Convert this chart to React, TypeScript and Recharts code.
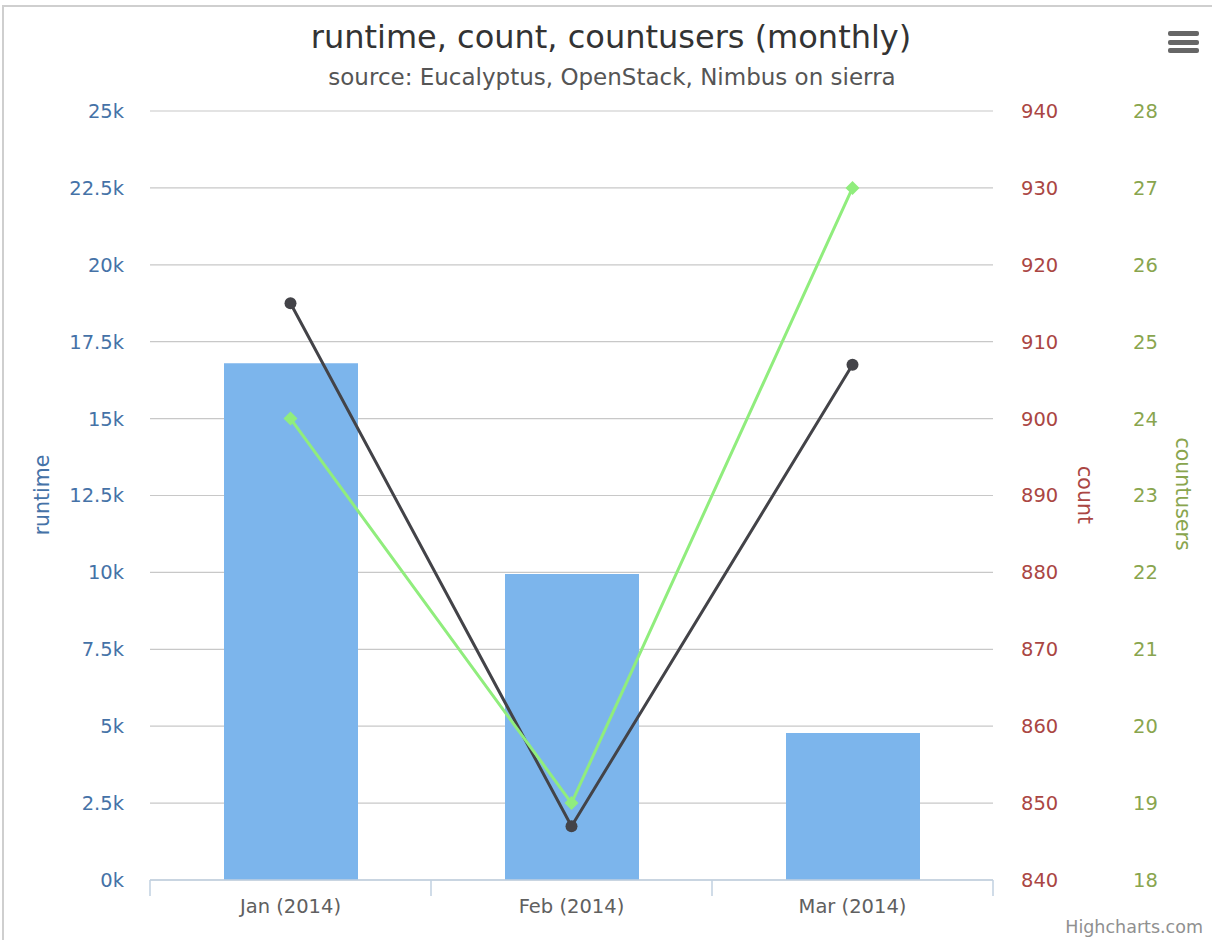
import React from 'react';
import {
  ComposedChart,
  Bar,
  Line,
  XAxis,
  YAxis,
  CartesianGrid,
} from 'recharts';

// monthly data
const months = ['Jan (2014)', 'Feb (2014)', 'Mar (2014)'];
const runtime = [16800, 9950, 4780];
const count = [915, 847, 907];
const countusers = [24, 19, 27];

const runtimeTicks = [0, 2500, 5000, 7500, 10000, 12500, 15000, 17500, 20000, 22500, 25000];
const countTicks = [840, 850, 860, 870, 880, 890, 900, 910, 920, 930, 940];
const usersTicks = [18, 19, 20, 21, 22, 23, 24, 25, 26, 27, 28];

const data = months.map((m, i) => ({
  month: m,
  runtime: runtime[i],
  count: count[i],
  countusers: countusers[i],
}));

const FONT = '"DejaVu Sans", Verdana, sans-serif';
const BLUE = '#4572A7';
const RED = '#AA4643';
const GREEN = '#89A54E';
const AXIS = '#C0D0E0';
const TICK_SIZE = 19.5;

const fmtK = (v: number) => `${v / 1000}k`;

const Diamond = (props: any) => {
  const { cx, cy } = props;
  if (cx == null || cy == null) return null;
  const r = 7;
  return (
    <polygon
      points={`${cx},${cy - r} ${cx + r},${cy} ${cx},${cy + r} ${cx - r},${cy}`}
      fill="#90ed7d"
    />
  );
};

// category label plus highcharts-style tick marks on the band edges
const MonthTick = (props: any) => {
  const { x, y, payload, index, visibleTicksCount, width } = props;
  const half = payload?.offset || (width && visibleTicksCount ? width / visibleTicksCount / 2 : 140);
  const last = index === visibleTicksCount - 1;
  return (
    <g>
      <line x1={x - half} x2={x - half} y1={y} y2={y + 16} stroke={AXIS} strokeWidth={1.5} />
      {last && <line x1={x + half} x2={x + half} y1={y} y2={y + 16} stroke={AXIS} strokeWidth={1.5} />}
      <text x={x} y={y + 33} textAnchor="middle" fill="#606060" fontSize={TICK_SIZE} fontFamily={FONT}>
        {payload.value}
      </text>
    </g>
  );
};

const axisTitle = (text: string, color: string, cx: number, cy: number, deg: number) => (
  <div
    style={{
      position: 'absolute',
      left: cx,
      top: cy,
      transform: `translate(-50%, -50%) rotate(${deg}deg)`,
      color,
      fontSize: 20.5,
      lineHeight: 1,
      whiteSpace: 'nowrap',
    }}
  >
    {text}
  </div>
);

export default function App() {
  return (
    <div
      style={{
        position: 'absolute',
        left: 0,
        top: 0,
        width: 1217,
        height: 940,
        background: '#fff',
        fontFamily: FONT,
        overflow: 'hidden',
      }}
    >
      {/* frame */}
      <div style={{ position: 'absolute', left: 2, top: 5, width: 1210, height: 2, background: '#cfcfcf' }} />
      <div style={{ position: 'absolute', left: 2, top: 5, width: 2, height: 935, background: '#cfcfcf' }} />

      <div style={{ position: 'absolute', left: 0, top: 18, width: 1222, textAlign: 'center', fontSize: 32, lineHeight: 1.2, color: '#333' }}>
        runtime, count, countusers (monthly)
      </div>
      <div style={{ position: 'absolute', left: 0, top: 64, width: 1224, textAlign: 'center', fontSize: 23, lineHeight: 1.2, color: '#555' }}>
        source: Eucalyptus, OpenStack, Nimbus on sierra
      </div>

      {/* export menu */}
      {[31, 40, 48].map((t) => (
        <div key={t} style={{ position: 'absolute', left: 1168, top: t, width: 31, height: 5, borderRadius: 2, background: '#666' }} />
      ))}

      <div style={{ position: 'absolute', left: 0, top: 0 }}>
        <ComposedChart width={1217} height={940} data={data} margin={{ top: 111, right: 4, bottom: 20, left: 0 }}>
          <CartesianGrid yAxisId="runtime" xAxisId="cat" vertical={false} stroke="#C8C8C8" strokeWidth={1.2} />
          <XAxis
            xAxisId="cat"
            dataKey="month"
            height={40}
            interval={0}
            axisLine={{ stroke: AXIS, strokeWidth: 1.5 }}
            tickLine={false}
            tickSize={0}
            tickMargin={0}
            tick={<MonthTick />}
          />
          <YAxis
            yAxisId="runtime"
            width={150}
            domain={[0, 25000]}
            ticks={runtimeTicks}
            tickFormatter={fmtK}
            axisLine={false}
            tickLine={false}
            tickSize={0}
            tickMargin={26}
            tick={{ fill: BLUE, fontSize: TICK_SIZE, fontFamily: FONT }}
          />
          <YAxis
            yAxisId="count"
            orientation="right"
            width={110}
            domain={[840, 940]}
            ticks={countTicks}
            axisLine={false}
            tickLine={false}
            tickSize={0}
            tickMargin={28}
            tick={{ fill: RED, fontSize: TICK_SIZE, fontFamily: FONT, textAnchor: 'start' }}
          />
          <YAxis
            yAxisId="users"
            orientation="right"
            width={110}
            domain={[18, 28]}
            ticks={usersTicks}
            axisLine={false}
            tickLine={false}
            tickSize={0}
            tickMargin={30}
            tick={{ fill: GREEN, fontSize: TICK_SIZE, fontFamily: FONT, textAnchor: 'start' }}
          />
          <Bar
            xAxisId="cat"
            yAxisId="runtime"
            dataKey="runtime"
            fill="#7cb5ec"
            barSize={134}
            isAnimationActive={false}
          />
          <Line
            xAxisId="cat"
            yAxisId="count"
            dataKey="count"
            stroke="#434348"
            strokeWidth={3}
            dot={{ r: 6, fill: '#434348', stroke: '#434348', strokeWidth: 0 }}
            activeDot={false}
            isAnimationActive={false}
          />
          <Line
            xAxisId="cat"
            yAxisId="users"
            dataKey="countusers"
            stroke="#90ed7d"
            strokeWidth={3}
            dot={<Diamond />}
            activeDot={false}
            isAnimationActive={false}
          />
        </ComposedChart>
      </div>

      {axisTitle('runtime', BLUE, 42, 495, -90)}
      {axisTitle('count', RED, 1085, 495, 90)}
      {axisTitle('countusers', GREEN, 1183, 494, 90)}

      <div style={{ position: 'absolute', right: 14, top: 917, fontSize: 17.5, lineHeight: 1.2, color: '#909090' }}>Highcharts.com</div>
    </div>
  );
}
